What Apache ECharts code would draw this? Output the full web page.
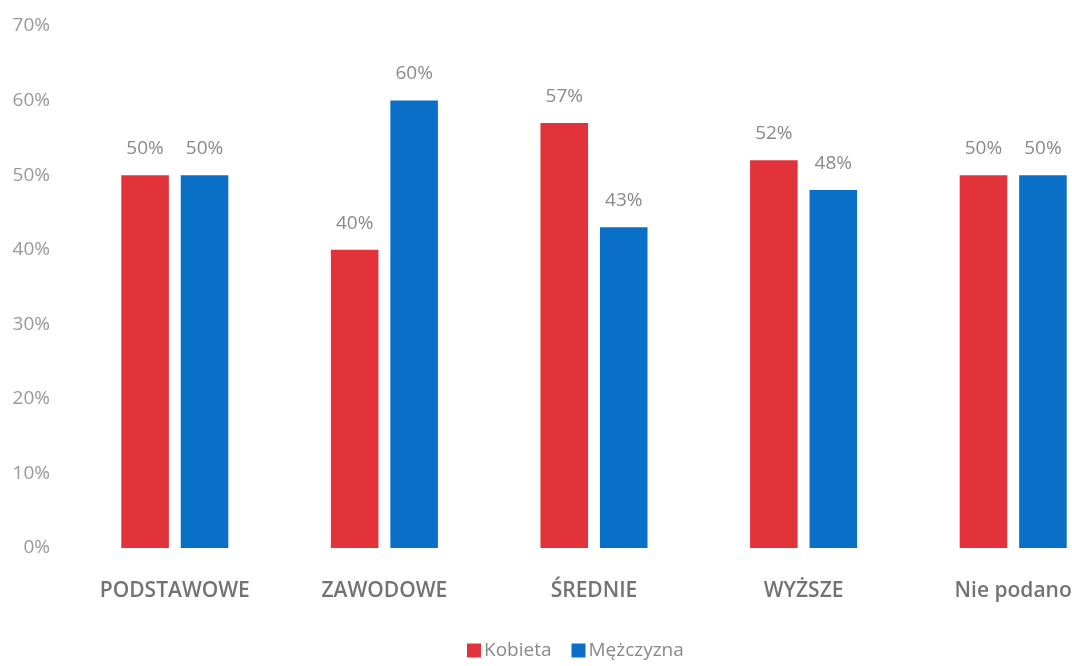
<!DOCTYPE html>
<html>
<head>
<meta charset="utf-8">
<script src="https://cdn.jsdelivr.net/npm/echarts@6/dist/echarts.min.js"></script>
<style>html,body{margin:0;padding:0;background:#fff;overflow:hidden;width:1072px;height:666px}#c{width:1118px;height:666px}</style>
</head>
<body>
<div id="c"></div>
<script>
const categories = ['PODSTAWOWE', 'ZAWODOWE', 'ŚREDNIE', 'WYŻSZE', 'Nie podano'];
const kobieta = [50, 40, 57, 52, 50];
const mezczyzna = [50, 60, 43, 48, 50];
const seriesNames = ['Kobieta', 'Mężczyzna'];
const yTicks = [0, 10, 20, 30, 40, 50, 60, 70];

const chart = echarts.init(document.getElementById('c'));
const font = '"Open Sans", "Noto Sans", sans-serif';
chart.setOption({
  animation: false,
  textStyle: { fontFamily: font },
  grid: { left: 70, right: 0, top: 26, bottom: 118, containLabel: false },
  legend: {
    bottom: 1,
    left: 462,
    itemWidth: 14, itemHeight: 14,
    itemGap: 20,
    icon: 'rect',
    textStyle: { color: '#8a8a8a', fontSize: 19, fontFamily: font, padding: [0, 0, 0, -2] },
    data: seriesNames
  },
  xAxis: {
    type: 'category',
    data: categories,
    axisLine: { show: false },
    axisTick: { show: false },
    axisLabel: { color: '#737373', fontSize: 21, fontWeight: 600, margin: 33, fontFamily: font }
  },
  yAxis: {
    type: 'value',
    min: yTicks[0], max: yTicks[yTicks.length - 1], interval: 10,
    splitLine: { show: false },
    axisLine: { show: false },
    axisTick: { show: false },
    axisLabel: { color: '#999', fontSize: 19, margin: 20, formatter: v => v + '%', fontFamily: font }
  },
  series: [
    {
      name: seriesNames[0], type: 'bar', data: kobieta,
      barWidth: '22.7%', barGap: '25%',
      itemStyle: { color: '#e2333b' },
      label: { show: true, position: 'top', distance: 17, color: '#8a8a8a', fontSize: 19, formatter: p => p.value + '%' }
    },
    {
      name: seriesNames[1], type: 'bar', data: mezczyzna,
      barWidth: '22.7%',
      itemStyle: { color: '#0a6fc7' },
      label: { show: true, position: 'top', distance: 17, color: '#8a8a8a', fontSize: 19, formatter: p => p.value + '%' }
    }
  ]
});
</script>
</body>
</html>
